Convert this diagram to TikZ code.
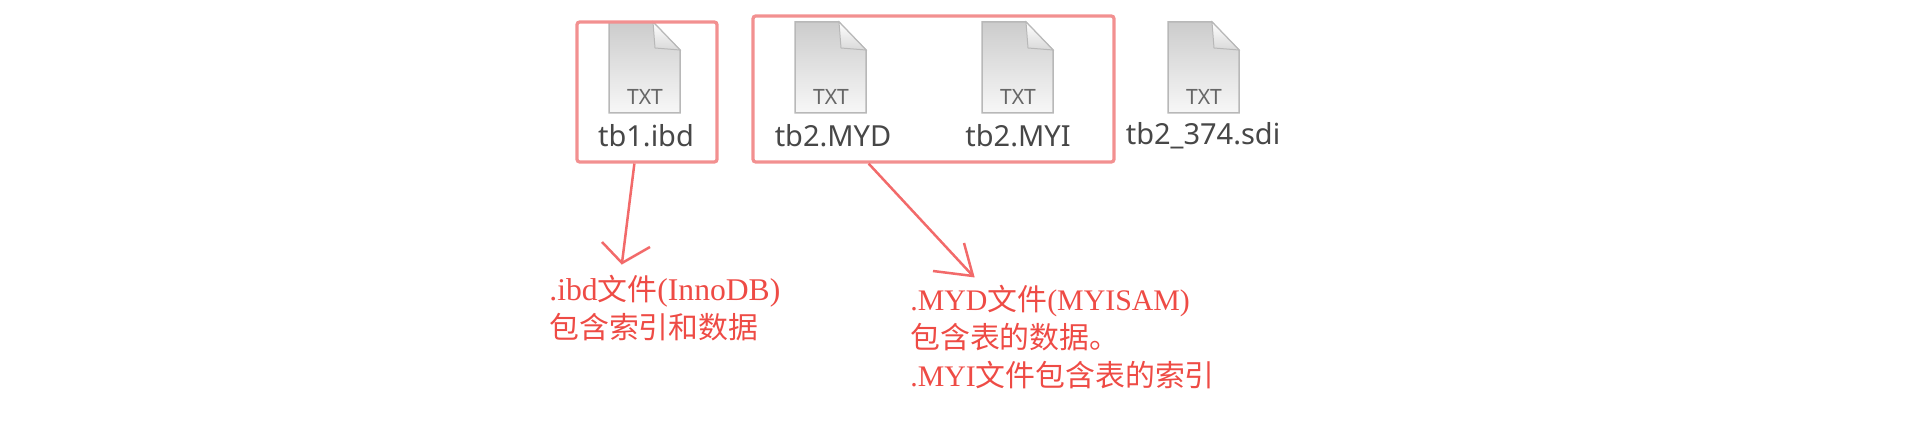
\documentclass[tikz,border=0pt]{standalone}
\usepackage{fontspec}
\setmainfont{Liberation Serif}
\newfontfamily\cjk{Noto Sans CJK SC}
\newfontfamily\uifont{Noto Sans}
\newcommand{\zh}[1]{{\cjk\fontsize{17}{21.5}\selectfont #1}}
\usetikzlibrary{positioning}
\definecolor{boxred}{HTML}{F29090}
\definecolor{linered}{HTML}{F26A6A}
\definecolor{notered}{HTML}{EE4B45}
\definecolor{iconline}{HTML}{B8B8B8}
\tikzset{
  filebox/.style={draw=boxred, line width=0.65mm, rounded corners=1.5pt, inner sep=0pt},
  callout/.style={draw=linered, line width=0.5mm},
  filename/.style={text=black!72, inner sep=0pt, font=\uifont\fontsize{16.5}{20}\selectfont},
  notetext/.style={text=notered, inner sep=0pt, align=left, anchor=west, font=\fontsize{18}{21.5}\selectfont},
  txticon/.pic={
    \draw[iconline, line width=0.3mm, top color=black!20, bottom color=black!3]
      (0,0) -- (44,0) -- (71,28) -- (71,91) -- (0,91) -- cycle;
    \draw[iconline, line width=0.2mm, top color=white, bottom color=black!15]
      (44,0) -- (46,26) -- (71,28) -- cycle;
    \node[text=black!60, inner sep=0pt, font=\uifont\fontsize{12}{14}\selectfont] at (36,75) {TXT};
  }
}
\begin{document}
\begin{tikzpicture}[x=0.02cm, y=-0.02cm]
\useasboundingbox (0,0) rectangle (1927,445);

\pic at (609,22) {txticon};
\pic at (795,22) {txticon};
\pic at (982,22) {txticon};
\pic at (1168,22) {txticon};

\node[filename] (ibd) at (646,136) {tb1.ibd};
\node[filename] (myd) at (833,136) {tb2.MYD};
\node[filename] (myi) at (1018,136) {tb2.MYI};
\node[filename] (sdi) at (1203,136) {tb2\_374.sdi};

\node[filebox, minimum width=2.8cm, minimum height=2.8cm] (boxA) at (647,92) {};
\node[filebox, minimum width=7.22cm, minimum height=2.92cm] (boxB) at (933.5,89) {};

\node[notetext] (noteA) at (549,308) {.ibd\zh{文件}(InnoDB)\\\zh{包含索引和数据}};
\node[notetext, font=\fontsize{17}{21.5}\selectfont] (noteB) at (910,337) {.MYD\zh{文件}(MYISAM)\\\zh{包含表的数据。}\\.MYI\zh{文件包含表的索引}};

\coordinate (tipA) at (622,263);
\coordinate (tipB) at (973,276);

\draw[callout] (boxA.260) -- (tipA);
\draw[callout] (602,242) -- (tipA) -- (650,247);
\draw[callout] (boxB.229) -- (tipB);
\draw[callout] (964,243) -- (tipB) -- (933,271);

\end{tikzpicture}
\end{document}
